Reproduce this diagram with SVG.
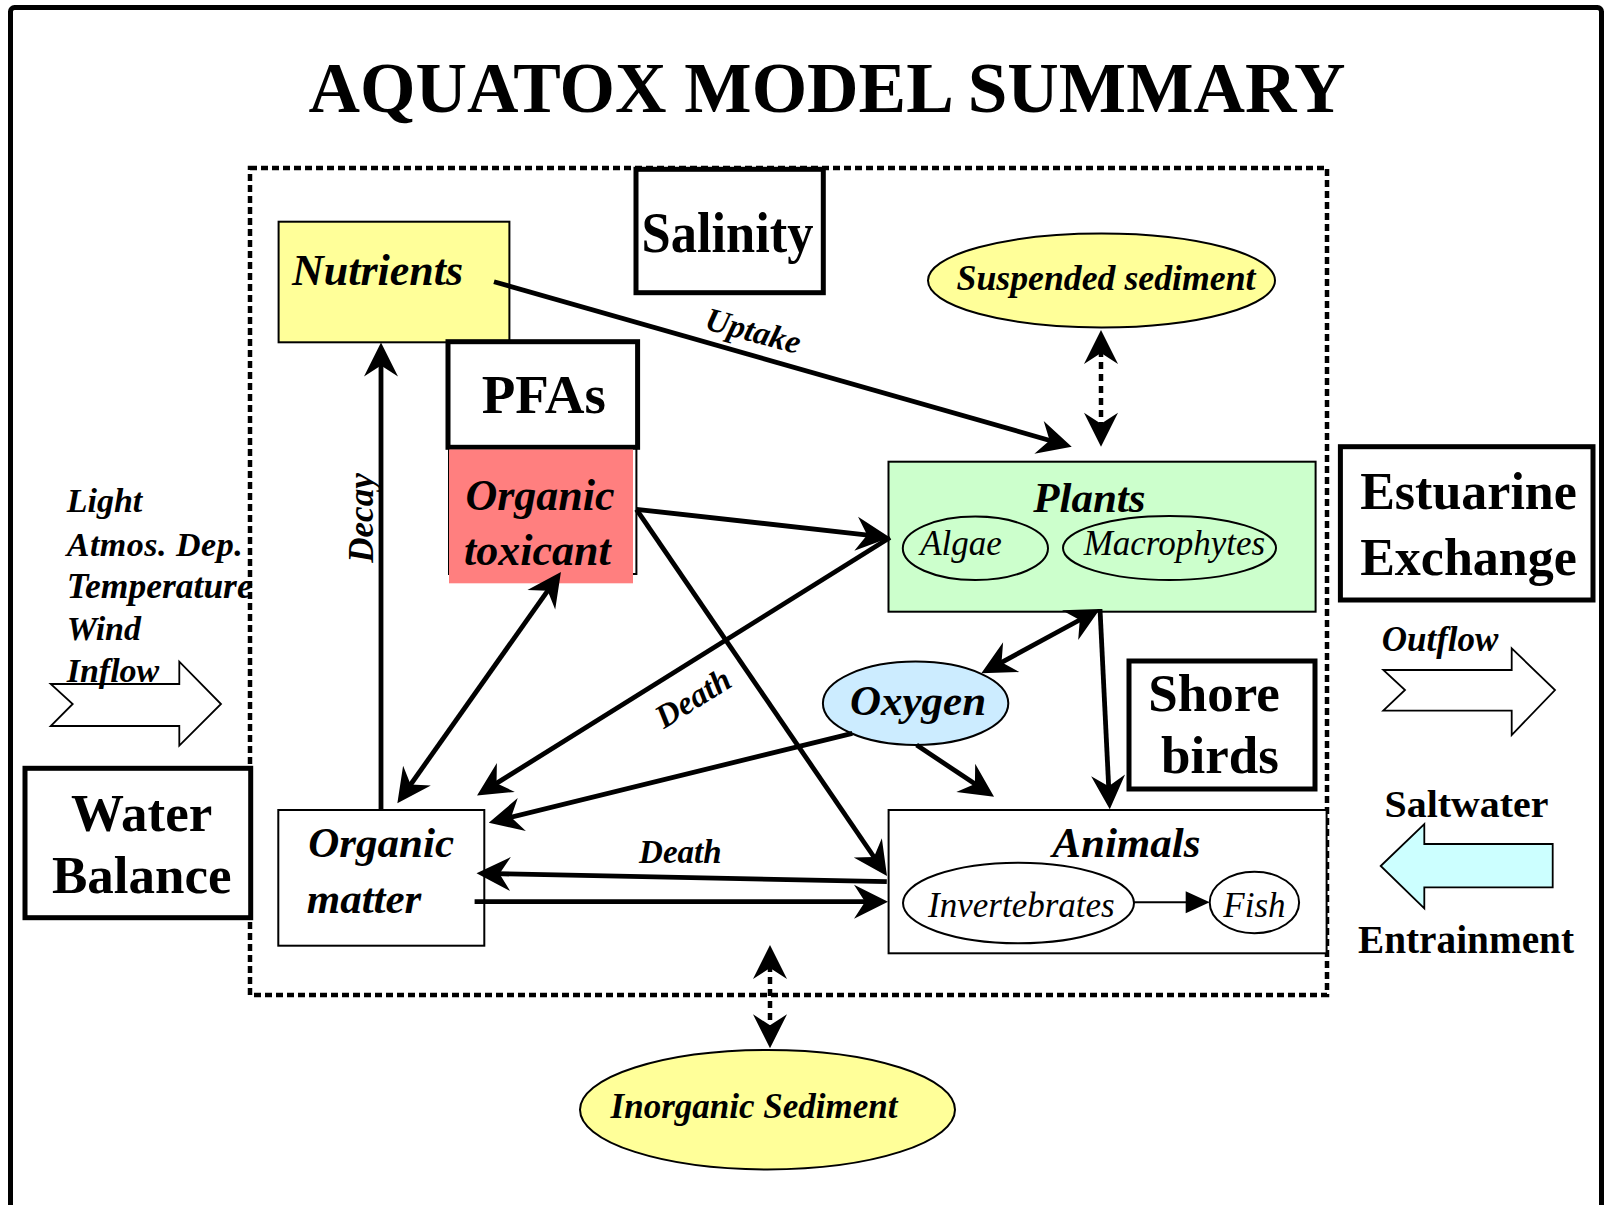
<svg xmlns="http://www.w3.org/2000/svg" width="1607" height="1205" viewBox="0 0 1607 1205">
<style>
text{font-family:"Liberation Serif","Times New Roman",serif;fill:#000}
.b{font-weight:bold}
.bi{font-weight:bold;font-style:italic}
.i{font-style:italic}
.thin{fill:none;stroke:#000;stroke-width:2}
.thick{fill:#fff;stroke:#000;stroke-width:5}
.con{fill:none;stroke:#000;stroke-width:4.8}
.dash{fill:none;stroke:#000;stroke-width:4.5;stroke-dasharray:7 5}
</style>
<defs>
<marker id="ah" viewBox="-16 -19 38 38" markerWidth="38" markerHeight="38" refX="0" refY="0" orient="auto-start-reverse" markerUnits="userSpaceOnUse">
<path d="M20,0 L-14,-17 L-3,0 L-14,17 Z" fill="#000"/>
</marker>
<marker id="tri" viewBox="-4 -13 28 26" markerWidth="28" markerHeight="26" refX="0" refY="0" orient="auto" markerUnits="userSpaceOnUse">
<path d="M22,0 L-2,-11 L-2,11 Z" fill="#000"/>
</marker>
</defs>
<rect width="1607" height="1205" fill="#fff"/>
<rect x="10.5" y="7.5" width="1591" height="1250" rx="4" fill="none" stroke="#000" stroke-width="5"/>
<text x="827" y="111.7" class="b" font-size="72" text-anchor="middle" textLength="1037" lengthAdjust="spacingAndGlyphs">AQUATOX MODEL SUMMARY</text>

<rect id="system-boundary" x="250" y="168" width="1077" height="827" fill="none" stroke="#000" stroke-width="4.5" stroke-dasharray="7 4"/>

<g id="inflow">
<polygon points="50.7,684 179.3,684 179.3,661.7 221,704 179.3,745.7 179.3,726 50.7,726 72.7,704" fill="#fff" stroke="#000" stroke-width="1.8"/>
<text class="bi" font-size="34" x="66.7" y="511.7">Light</text>
<text class="bi" font-size="34" x="66.7" y="556" textLength="176" lengthAdjust="spacing">Atmos. Dep.</text>
<text class="bi" font-size="35" x="66.7" y="598.3" textLength="186" lengthAdjust="spacingAndGlyphs">Temperature</text>
<text class="bi" font-size="34" x="66.7" y="640">Wind</text>
<text class="bi" font-size="34" x="66.7" y="681.7">Inflow</text>
</g>

<g id="water-balance">
<rect x="25" y="768.3" width="225.7" height="149.4" class="thick"/>
<text class="b" font-size="53" x="141.7" y="830.7" text-anchor="middle">Water</text>
<text class="b" font-size="53" x="141.7" y="893.3" text-anchor="middle">Balance</text>
</g>

<g id="nutrients">
<rect x="278.6" y="221.7" width="230.8" height="120.6" fill="#ffff99" stroke="#000" stroke-width="2"/>
<text class="bi" font-size="44" x="292" y="285">Nutrients</text>
</g>

<g id="salinity">
<rect x="636" y="169.3" width="187.3" height="123.4" class="thick"/>
<text class="b" font-size="56" x="727.5" y="251.7" text-anchor="middle" textLength="172" lengthAdjust="spacingAndGlyphs">Salinity</text>
</g>

<g id="pfas">
<rect x="448" y="341.7" width="189.6" height="105.6" class="thick"/>
<text class="b" font-size="55" x="543.8" y="413.3" text-anchor="middle">PFAs</text>
</g>

<g id="organic-toxicant">
<rect x="449" y="447.5" width="187.4" height="126.5" fill="none" stroke="#000" stroke-width="2"/>
<rect x="449" y="449.5" width="184" height="133.8" fill="#ff7f7f"/>
<text class="bi" font-size="44" x="465.4" y="510">Organic</text>
<text class="bi" font-size="44" x="464" y="565">toxicant</text>
</g>

<g id="suspended-sediment">
<ellipse cx="1101.5" cy="280.5" rx="173.5" ry="47" fill="#ffff99" stroke="#000" stroke-width="2"/>
<text class="bi" font-size="35" x="1106" y="290" text-anchor="middle" textLength="299" lengthAdjust="spacingAndGlyphs">Suspended sediment</text>
</g>

<g id="plants">
<rect x="888.5" y="461.7" width="427.1" height="150" fill="#ccffcc" stroke="#000" stroke-width="2"/>
<text class="bi" font-size="43" x="1089.4" y="511.7" text-anchor="middle">Plants</text>
<ellipse cx="975.4" cy="548.3" rx="72.6" ry="31.7" class="thin"/>
<text class="i" font-size="35" x="961" y="555" text-anchor="middle">Algae</text>
<ellipse cx="1169.5" cy="548" rx="106.5" ry="32" class="thin"/>
<text class="i" font-size="35" x="1174.4" y="555" text-anchor="middle">Macrophytes</text>
</g>

<g id="estuarine-exchange">
<rect x="1340.4" y="446.7" width="252.6" height="153.3" class="thick"/>
<text class="b" font-size="52" x="1468.5" y="509.3" text-anchor="middle">Estuarine</text>
<text class="b" font-size="52" x="1468.5" y="575" text-anchor="middle">Exchange</text>
</g>

<g id="outflow">
<text class="bi" font-size="35" x="1381.7" y="650.7">Outflow</text>
<polygon points="1383.3,670 1511.7,670 1511.7,648.3 1555,690 1511.7,735 1511.7,710.7 1383.3,710.7 1405,690" fill="#fff" stroke="#000" stroke-width="1.8"/>
</g>

<g id="saltwater-entrainment">
<text class="b" font-size="38" x="1466.5" y="817.3" text-anchor="middle" textLength="164" lengthAdjust="spacingAndGlyphs">Saltwater</text>
<polygon points="1380.7,866 1424.3,824 1424.3,844 1552.7,844 1552.7,887.3 1424.3,887.3 1424.3,908.3" fill="#ccffff" stroke="#000" stroke-width="1.8"/>
<text class="b" font-size="39" x="1466" y="953.3" text-anchor="middle" textLength="216" lengthAdjust="spacingAndGlyphs">Entrainment</text>
</g>

<g id="oxygen">
<ellipse cx="915.6" cy="703.3" rx="92.7" ry="41.7" fill="#ccecff" stroke="#000" stroke-width="2"/>
<text class="bi" font-size="43" x="918" y="715" text-anchor="middle">Oxygen</text>
</g>

<g id="shore-birds">
<rect x="1129" y="661" width="186" height="128" class="thick"/>
<text class="b" font-size="53" x="1214" y="711" text-anchor="middle">Shore</text>
<text class="b" font-size="53" x="1220" y="773.3" text-anchor="middle">birds</text>
</g>

<g id="organic-matter">
<rect x="278.3" y="810" width="206" height="135.7" fill="#fff" stroke="#000" stroke-width="2"/>
<text class="bi" font-size="43" x="308.3" y="857.3">Organic</text>
<text class="bi" font-size="43" x="306.7" y="913.3">matter</text>
</g>

<g id="animals">
<rect x="888.6" y="810" width="438" height="143.3" fill="#fff" stroke="#000" stroke-width="2"/>
<text class="bi" font-size="43" x="1126.4" y="856.7" text-anchor="middle">Animals</text>
<ellipse cx="1018.5" cy="903" rx="115.5" ry="40.3" class="thin"/>
<text class="i" font-size="35" x="1021.4" y="916.7" text-anchor="middle">Invertebrates</text>
<ellipse cx="1254.4" cy="902.5" rx="44.7" ry="30.8" class="thin"/>
<text class="i" font-size="35" x="1254.4" y="916.7" text-anchor="middle">Fish</text>
<line x1="1134" y1="902.3" x2="1187.7" y2="902.3" stroke="#000" stroke-width="2" marker-end="url(#tri)"/>
</g>

<g id="inorganic-sediment">
<ellipse cx="767.5" cy="1109.7" rx="187.5" ry="59.7" fill="#ffff99" stroke="#000" stroke-width="2"/>
<text class="bi" font-size="35" x="754" y="1118.3" text-anchor="middle">Inorganic Sediment</text>
</g>

<g id="connectors">
<line x1="381" y1="810" x2="381" y2="362.5" class="con" marker-end="url(#ah)"/>
<line x1="494" y1="281.7" x2="1052.5" y2="441.2" class="con" marker-end="url(#ah)"/>
<line x1="1101" y1="350" x2="1101" y2="426.7" class="dash" marker-start="url(#ah)" marker-end="url(#ah)"/>
<line x1="636.4" y1="509.3" x2="870.1" y2="535.3" class="con" marker-end="url(#ah)"/>
<line x1="636.4" y1="509.3" x2="875.7" y2="859.5" class="con" marker-end="url(#ah)"/>
<line x1="890" y1="537.5" x2="494" y2="784.9" class="con" marker-end="url(#ah)"/>
<line x1="549.4" y1="588.3" x2="408.9" y2="787" class="con" marker-start="url(#ah)" marker-end="url(#ah)"/>
<line x1="1082.4" y1="618.5" x2="998.9" y2="663.8" class="con" marker-start="url(#ah)" marker-end="url(#ah)"/>
<line x1="1100" y1="609" x2="1108.8" y2="789.3" class="con" marker-end="url(#ah)"/>
<line x1="852.3" y1="733.3" x2="508.2" y2="817.9" class="con" marker-end="url(#ah)"/>
<line x1="916.6" y1="745" x2="977.4" y2="785.6" class="con" marker-end="url(#ah)"/>
<line x1="886.8" y1="881.7" x2="496.5" y2="873.7" class="con" marker-end="url(#ah)"/>
<line x1="474.6" y1="901.7" x2="868" y2="901.7" class="con" marker-end="url(#ah)"/>
<line x1="770" y1="965" x2="770" y2="1028.3" class="dash" marker-start="url(#ah)" marker-end="url(#ah)"/>
<text class="bi" font-size="35" transform="translate(373,518) rotate(-90)" text-anchor="middle">Decay</text>
<text class="bi" font-size="33" transform="translate(750.5,341.4) rotate(15)" text-anchor="middle">Uptake</text>
<text class="bi" font-size="33" transform="translate(698.8,707.3) rotate(-32)" text-anchor="middle">Death</text>
<text class="bi" font-size="33" x="680.3" y="863.3" text-anchor="middle">Death</text>
</g>
</svg>
